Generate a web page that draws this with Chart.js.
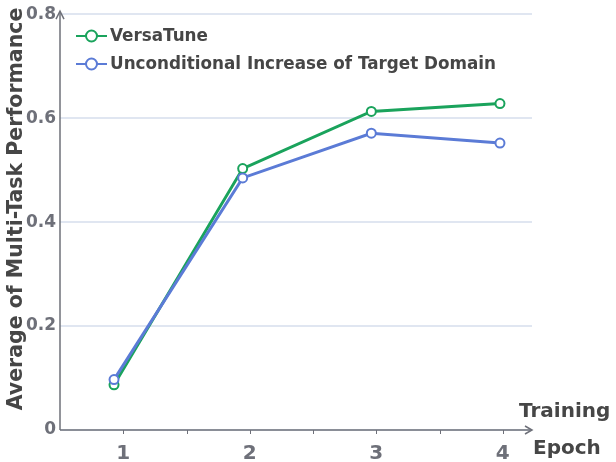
<!DOCTYPE html>
<html>
<head>
<meta charset="utf-8">
<script src="https://cdn.jsdelivr.net/npm/chart.js@4.4.1/dist/chart.umd.min.js"></script>
<style>
html,body{margin:0;padding:0;background:#fff;}
#wrap{width:616px;height:462px;position:relative;}
</style>
</head>
<body>
<div id="wrap"><canvas id="c" width="616" height="462"></canvas></div>
<script>
const epochs = [1, 2, 3, 4];
const seriesNames = ["VersaTune", "Unconditional Increase of Target Domain"];
const versaTune = [0.087, 0.503, 0.613, 0.628];
const unconditional = [0.097, 0.485, 0.571, 0.552];
const yTicks = [0, 0.2, 0.4, 0.6, 0.8];
const xTickLabels = ["1", "2", "3", "4"];
const yTitle = "Average of Multi-Task Performance";
const xTitleLines = ["Training", "Epoch"];

const GREEN = "#1aa35c";
const BLUE = "#5b7bd6";
const AXIS = "#6e7079";
const TEXT = "#464646";
const FONT = "'DejaVu Sans', sans-serif";

const decor = {
  id: "decor",
  beforeDatasetsDraw(chart) {
    const ctx = chart.ctx;
    const a = chart.chartArea;
    const x = chart.scales.x;
    ctx.save();
    ctx.strokeStyle = AXIS;
    ctx.lineWidth = 1.5;
    ctx.beginPath();
    ctx.moveTo(a.left, a.bottom);
    ctx.lineTo(a.left, a.top - 2);
    ctx.stroke();
    ctx.beginPath();
    ctx.moveTo(a.left - 4, a.top + 5);
    ctx.lineTo(a.left, a.top - 3);
    ctx.lineTo(a.left + 4, a.top + 5);
    ctx.stroke();
    ctx.beginPath();
    ctx.moveTo(a.left, a.bottom);
    ctx.lineTo(a.right, a.bottom);
    ctx.stroke();
    ctx.beginPath();
    ctx.moveTo(a.right - 7, a.bottom - 4);
    ctx.lineTo(a.right, a.bottom);
    ctx.lineTo(a.right - 7, a.bottom + 4);
    ctx.stroke();
    ctx.lineWidth = 1;
    for (let v = 1; v <= 4.001; v += 0.5) {
      const px = Math.round(x.getPixelForValue(v)) + 0.5;
      ctx.beginPath();
      ctx.moveTo(px, a.bottom);
      ctx.lineTo(px, a.bottom + 4);
      ctx.stroke();
    }
    ctx.restore();
  },
  afterDraw(chart) {
    const ctx = chart.ctx;
    ctx.save();
    ctx.fillStyle = TEXT;
    ctx.font = "bold 20.5px " + FONT;
    ctx.textAlign = "center";
    ctx.textBaseline = "middle";
    ctx.translate(17, 209);
    ctx.rotate(-Math.PI / 2);
    ctx.fillText(yTitle, 0, 0);
    ctx.restore();

    ctx.save();
    ctx.fillStyle = TEXT;
    ctx.font = "bold 20px " + FONT;
    ctx.textAlign = "left";
    ctx.textBaseline = "middle";
    ctx.fillText(xTitleLines[0], 519, 412);
    ctx.fillText(xTitleLines[1], 533, 449);

    const items = [[seriesNames[0], GREEN, 36], [seriesNames[1], BLUE, 64]];
    ctx.font = "bold 16.8px " + FONT;
    items.forEach(([label, col, y]) => {
      ctx.strokeStyle = col;
      ctx.lineWidth = 2;
      ctx.beginPath();
      ctx.moveTo(76, y);
      ctx.lineTo(107, y);
      ctx.stroke();
      ctx.beginPath();
      ctx.arc(91.5, y, 5.5, 0, Math.PI * 2);
      ctx.fillStyle = "#fff";
      ctx.fill();
      ctx.stroke();
      ctx.fillStyle = TEXT;
      ctx.fillText(label, 110, y + 1);
    });
    ctx.restore();
  }
};

new Chart(document.getElementById("c"), {
  type: "line",
  data: {
    datasets: [
      {
        label: seriesNames[0],
        data: epochs.map((e, i) => ({ x: e, y: versaTune[i] })),
        borderColor: GREEN,
        backgroundColor: "#fff",
        borderWidth: 3,
        pointRadius: 4.5,
        pointBorderWidth: 2,
        pointBackgroundColor: "#fff",
        xAxisID: "xd",
        tension: 0
      },
      {
        label: seriesNames[1],
        data: epochs.map((e, i) => ({ x: e, y: unconditional[i] })),
        borderColor: BLUE,
        backgroundColor: "#fff",
        borderWidth: 3,
        pointRadius: 4.5,
        pointBorderWidth: 2,
        pointBackgroundColor: "#fff",
        xAxisID: "xd",
        tension: 0
      }
    ].reverse()
  },
  options: {
    responsive: false,
    animation: false,
    events: [],
    layout: { autoPadding: false, padding: { top: 12, right: 84, left: 0, bottom: 0 } },
    plugins: { legend: { display: false }, tooltip: { enabled: false } },
    scales: {
      x: {
        type: "linear",
        position: "bottom",
        min: 0.5,
        max: 4.231,
        afterBuildTicks(s) {
          s.ticks = xTickLabels.map(t => ({ value: Number(t) }));
        },
        ticks: {
          autoSkip: false,
          maxRotation: 0,
          padding: 4,
          color: AXIS,
          font: { family: FONT, size: 20, weight: "bold" },
          callback: (v) => String(v)
        },
        grid: { display: false },
        border: { display: false },
        afterFit(s) { s.height = 32; }
      },
      xd: {
        type: "linear",
        display: false,
        min: 0.58,
        max: 4.249
      },
      y: {
        min: 0,
        max: 0.8,
        afterBuildTicks(s) {
          s.ticks = yTicks.map(v => ({ value: v }));
        },
        ticks: {
          padding: 4,
          color: AXIS,
          font: { family: FONT, size: 17, weight: "bold" },
          callback: (v) => v === 0 ? "0" : v.toFixed(1)
        },
        grid: { color: "#e0e6f1", lineWidth: 2, drawTicks: false },
        border: { display: false },
        afterFit(s) { s.width = 60; }
      }
    }
  },
  plugins: [decor]
});
</script>
</body>
</html>
